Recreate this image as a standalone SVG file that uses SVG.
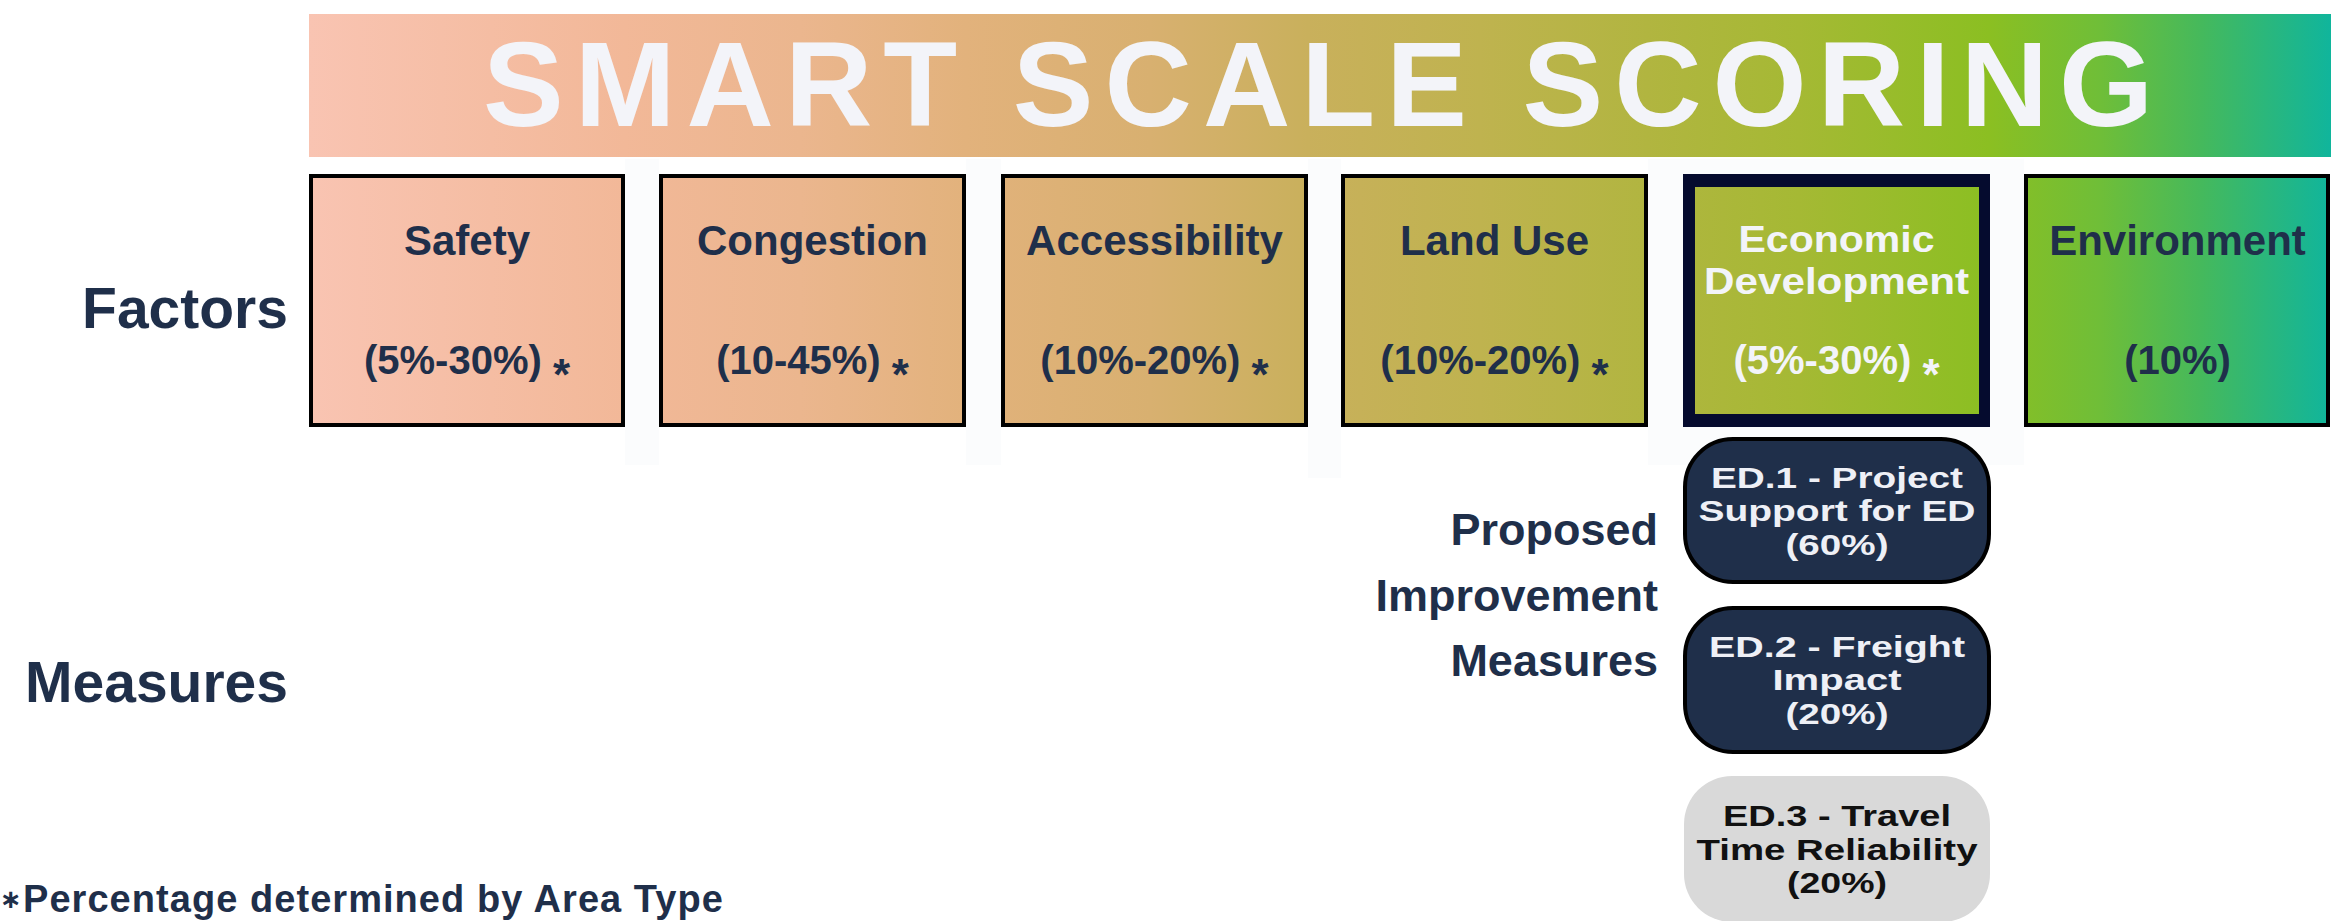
<svg xmlns="http://www.w3.org/2000/svg" width="2331" height="921" viewBox="0 0 2331 921">
  <defs>
    <linearGradient id="grad" gradientUnits="userSpaceOnUse" x1="309" y1="0" x2="2331" y2="0">
      <stop offset="0" stop-color="#f9c4b2"/>
      <stop offset="0.156" stop-color="#f2b898"/>
      <stop offset="0.243" stop-color="#ebb68e"/>
      <stop offset="0.325" stop-color="#e2b27c"/>
      <stop offset="0.416" stop-color="#d8b070"/>
      <stop offset="0.494" stop-color="#c9b05c"/>
      <stop offset="0.579" stop-color="#bfb34f"/>
      <stop offset="0.662" stop-color="#b1b540"/>
      <stop offset="0.737" stop-color="#a5b934"/>
      <stop offset="0.831" stop-color="#8bbf22"/>
      <stop offset="0.886" stop-color="#6fbe38"/>
      <stop offset="0.936" stop-color="#45b95c"/>
      <stop offset="1" stop-color="#10b59c"/>
    </linearGradient>
    <style>
      .strip { fill: #fbfcfd; }
      .box { fill: url(#grad); }
      .border { fill: none; stroke: #000000; stroke-width: 4; }
      .lbl { font-family: "Liberation Sans", Arial, sans-serif; font-weight: bold; font-size: 42px; fill: #1f2f4a; text-anchor: middle; }
      .lbl2 { font-family: "Liberation Sans", Arial, sans-serif; font-weight: bold; font-size: 37px; fill: #f3f4f9; text-anchor: middle; }
      .pct { font-family: "Liberation Sans", Arial, sans-serif; font-weight: bold; font-size: 40px; fill: #1f2f4a; text-anchor: middle; }
      .star { font-size: 44px; }
      .white { fill: #f3f4f9; }
      .side { font-family: "Liberation Sans", Arial, sans-serif; font-weight: bold; fill: #1f2f4a; text-anchor: end; }
      .pill { fill: #1f2f4a; stroke: #000000; stroke-width: 4; }
      .pill3 { fill: #d9d9d9; }
      .ptxt { font-family: "Liberation Sans", Arial, sans-serif; font-weight: bold; font-size: 30px; fill: #eef0f6; text-anchor: middle; }
      .ptxt3 { font-family: "Liberation Sans", Arial, sans-serif; font-weight: bold; font-size: 30px; fill: #111111; text-anchor: middle; }
    </style>
  </defs>

  <rect width="2331" height="921" fill="#ffffff"/>

  <g id="background-strips">
    <rect class="strip" x="625" y="159" width="34" height="306"/>
    <rect class="strip" x="966" y="159" width="35" height="306"/>
    <rect class="strip" x="1308" y="159" width="33" height="319"/>
    <rect class="strip" x="1648" y="159" width="376" height="306"/>
  </g>

  <g id="title">
    <rect x="309" y="14" width="2022" height="143" fill="url(#grad)"/>
    <text x="483" y="126" font-family="'Liberation Sans', Arial, sans-serif" font-weight="bold" font-size="121" letter-spacing="11" fill="#f3f4f9">SMART SCALE SCORING</text>
  </g>

  <g id="label-factors">
    <text class="side" x="288" y="328" font-size="57">Factors</text>
  </g>
  <g id="label-measures">
    <text class="side" x="288" y="702" font-size="57">Measures</text>
  </g>

  <g id="factor-safety">
    <rect class="box" x="309" y="174" width="316" height="253"/>
    <rect class="border" x="311" y="176" width="312" height="249"/>
    <text class="lbl" x="467" y="255">Safety</text>
    <text class="pct" x="467" y="374">(5%-30%) <tspan class="star" dy="16">*</tspan></text>
  </g>

  <g id="factor-congestion">
    <rect class="box" x="659" y="174" width="307" height="253"/>
    <rect class="border" x="661" y="176" width="303" height="249"/>
    <text class="lbl" x="812.5" y="255">Congestion</text>
    <text class="pct" x="812.5" y="374">(10-45%) <tspan class="star" dy="16">*</tspan></text>
  </g>

  <g id="factor-accessibility">
    <rect class="box" x="1001" y="174" width="307" height="253"/>
    <rect class="border" x="1003" y="176" width="303" height="249"/>
    <text class="lbl" x="1154.5" y="255">Accessibility</text>
    <text class="pct" x="1154.5" y="374">(10%-20%) <tspan class="star" dy="16">*</tspan></text>
  </g>

  <g id="factor-landuse">
    <rect class="box" x="1341" y="174" width="307" height="253"/>
    <rect class="border" x="1343" y="176" width="303" height="249"/>
    <text class="lbl" x="1494.5" y="255">Land Use</text>
    <text class="pct" x="1494.5" y="374">(10%-20%) <tspan class="star" dy="16">*</tspan></text>
  </g>

  <g id="factor-economic">
    <rect x="1683" y="174" width="307" height="253" fill="#050b2e"/>
    <rect class="box" x="1695" y="187" width="284" height="227"/>
    <text class="lbl2" x="1836.5" y="252" textLength="196" lengthAdjust="spacingAndGlyphs">Economic</text>
    <text class="lbl2" x="1836.5" y="294" textLength="265" lengthAdjust="spacingAndGlyphs">Development</text>
    <text class="pct white" x="1836.5" y="374">(5%-30%) <tspan class="star" dy="16">*</tspan></text>
  </g>

  <g id="factor-environment">
    <rect class="box" x="2024" y="174" width="306" height="253"/>
    <rect class="border" x="2026" y="176" width="302" height="249"/>
    <text class="lbl" x="2177.5" y="255">Environment</text>
    <text class="pct" x="2177.5" y="374">(10%)</text>
  </g>

  <g id="label-proposed">
    <text class="side" x="1658" y="545" font-size="45">Proposed</text>
    <text class="side" x="1658" y="611" font-size="45">Improvement</text>
    <text class="side" x="1658" y="676" font-size="45">Measures</text>
  </g>

  <g id="measure-ed1">
    <rect class="pill" x="1685" y="439" width="304" height="143" rx="48" ry="48"/>
    <text class="ptxt" x="1837" y="488" textLength="252" lengthAdjust="spacingAndGlyphs">ED.1 - Project</text>
    <text class="ptxt" x="1837" y="521" textLength="277" lengthAdjust="spacingAndGlyphs">Support for ED</text>
    <text class="ptxt" x="1837" y="555" textLength="103" lengthAdjust="spacingAndGlyphs">(60%)</text>
  </g>

  <g id="measure-ed2">
    <rect class="pill" x="1685" y="608" width="304" height="144" rx="48" ry="48"/>
    <text class="ptxt" x="1837" y="657" textLength="256" lengthAdjust="spacingAndGlyphs">ED.2 - Freight</text>
    <text class="ptxt" x="1837" y="690" textLength="129" lengthAdjust="spacingAndGlyphs">Impact</text>
    <text class="ptxt" x="1837" y="724" textLength="103" lengthAdjust="spacingAndGlyphs">(20%)</text>
  </g>

  <g id="measure-ed3">
    <rect class="pill3" x="1684" y="776" width="306" height="146" rx="48" ry="48"/>
    <text class="ptxt3" x="1837" y="826" textLength="228" lengthAdjust="spacingAndGlyphs">ED.3 - Travel</text>
    <text class="ptxt3" x="1837" y="860" textLength="281" lengthAdjust="spacingAndGlyphs">Time Reliability</text>
    <text class="ptxt3" x="1837" y="893" textLength="100" lengthAdjust="spacingAndGlyphs">(20%)</text>
  </g>

  <g id="footnote">
    <text x="11" y="908" text-anchor="middle" font-family="'DejaVu Sans', sans-serif" font-weight="bold" font-size="26" fill="#1f2f4a">∗</text>
    <text x="23" y="912" font-family="'Liberation Sans', Arial, sans-serif" font-weight="bold" font-size="38" letter-spacing="1.05" fill="#1f2f4a">Percentage determined by Area Type</text>
  </g>

  <g id="connectors"></g>
</svg>
